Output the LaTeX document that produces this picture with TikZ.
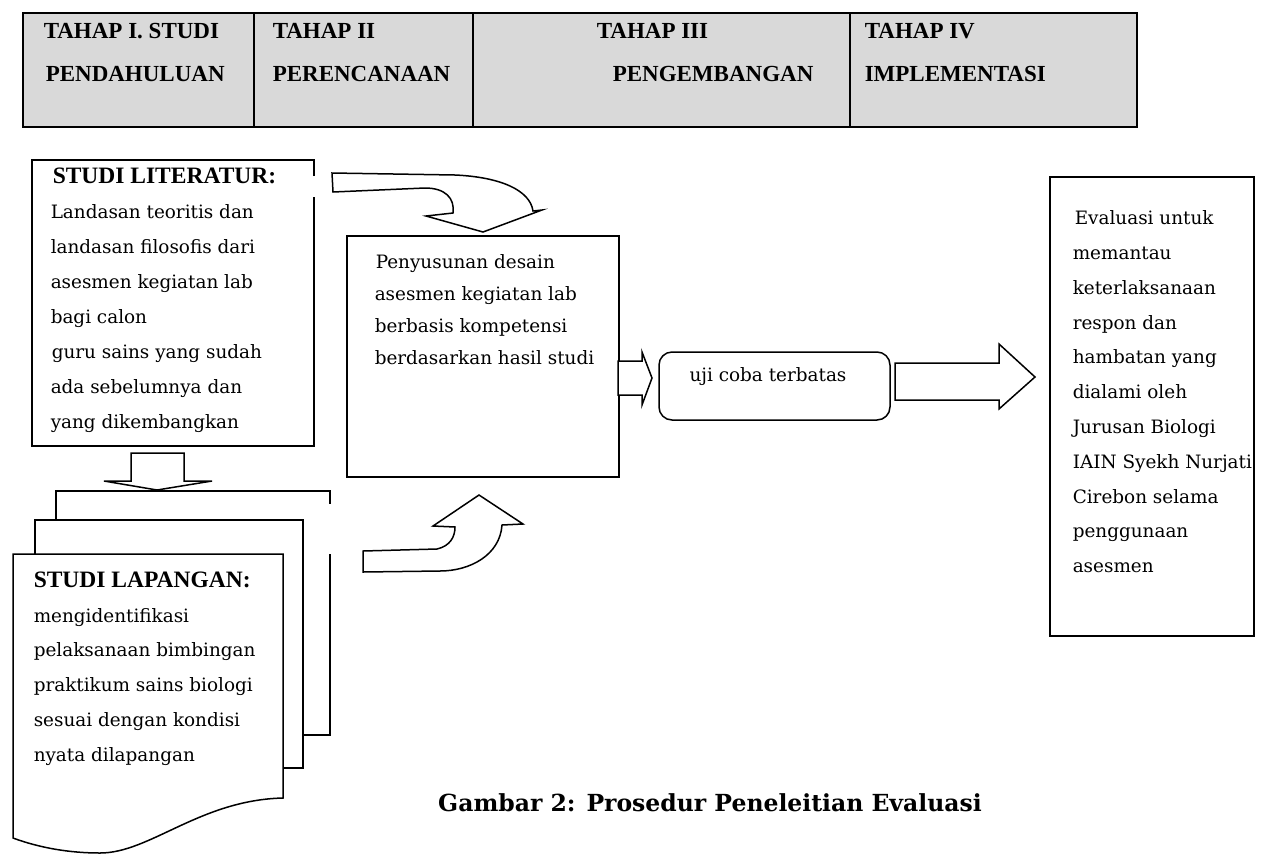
\documentclass[tikz,border=0pt]{standalone}
\usepackage{fontspec}
\setmainfont{DejaVu Serif}
\newfontfamily\stagefont{Liberation Serif}
\definecolor{hdrgray}{RGB}{217,217,217}
\begin{document}
\begin{tikzpicture}[x=1pt,y=-1pt,line width=1.5pt,
    boxtext/.style={anchor=north west,inner sep=0pt,align=left,font=\fontsize{18.4}{35}\selectfont},
    stagetext/.style={anchor=north west,inner sep=0pt,align=left,font=\stagefont\bfseries\fontsize{23}{43}\selectfont},
    blockarrow/.style={draw,fill=white,line join=miter}]
  \useasboundingbox (0,0) rectangle (1263,855);
  % tahap
  \draw[line width=2.2pt,fill=hdrgray] (23,13) rectangle (1137,127);
  \foreach \x in {254,473,850}
    \draw[line width=2.2pt] (\x,13) -- (\x,127);
  \node[stagetext] (tahap1) at (43,23) {TAHAP I. STUDI\\\hspace*{2pt}PENDAHULUAN};
  \node[stagetext] (tahap2) at (272,23) {TAHAP II\\PERENCANAAN};
  \node[stagetext] (tahap3) at (596,23) {TAHAP III\\\hspace*{16pt}PENGEMBANGAN};
  \node[stagetext] (tahap4) at (864,23) {TAHAP IV\\IMPLEMENTASI};
  % studi literatur
  \draw (314,176) -- (314,160) -- (32,160) -- (32,446) -- (314,446) -- (314,197);
  \node[boxtext] (literatur) at (50,167) {\hspace*{2pt}{\stagefont\bfseries\fontsize{23.5}{35}\selectfont STUDI LITERATUR:}\\
    Landasan teoritis dan\\landasan filosofis dari\\asesmen kegiatan lab\\bagi calon\\
    \hspace*{1pt}guru sains yang sudah\\ada sebelumnya dan\\yang dikembangkan};
  % studi lapangan
  \draw (56,520) -- (56,491) -- (330,491) -- (330,504);
  \draw (330,554) -- (330,735) -- (303,735);
  \draw (35,554) -- (35,520) -- (303,520) -- (303,768) -- (283,768);
  \draw (13,554) -- (283,554) -- (283,798)
    .. controls (200,800) and (150,853) .. (100,853)
    .. controls (70,853) and (40,848) .. (13,838) -- cycle;
  \node[boxtext,font=\fontsize{18.4}{34.75}\selectfont] (lapangan) at (33,571) {{\stagefont\bfseries\fontsize{23.5}{35}\selectfont STUDI LAPANGAN:}\\
    mengidentifikasi\\pelaksanaan bimbingan\\praktikum sains biologi\\sesuai dengan kondisi\\nyata dilapangan};
  \draw[blockarrow] (131,453) -- (184,453) -- (184,481) -- (212,481) -- (157,490) -- (104,481) -- (131,481) -- cycle;
  % perencanaan
  \draw (347,236) rectangle (619,477);
  \node[boxtext,font=\fontsize{18.4}{32}\selectfont] (desain) at (374,254) {\hspace*{1pt}Penyusunan desain\\asesmen kegiatan lab\\berbasis kompetensi\\berdasarkan hasil studi};
  \draw[blockarrow] (332,173) -- (455,175) .. controls (500,177) and (530,190) .. (533,211)
    -- (542,210) -- (483,232) -- (426,216) -- (453,213)
    .. controls (455,198) and (445,188) .. (425,188) -- (333,192) -- cycle;
  \draw[blockarrow] (363,551) -- (437,549) .. controls (450,546) and (455,537) .. (455,527)
    -- (433,526) -- (479,495) -- (523,524) -- (502,525)
    .. controls (500,555) and (470,571) .. (440,571) -- (363,572) -- cycle;
  % pengembangan
  \draw[blockarrow] (618,361) -- (642,361) -- (642,352) -- (652,378) -- (642,405) -- (642,395) -- (618,395) -- cycle;
  \draw[rounded corners=13pt] (659,352) rectangle (890,420);
  \node[font=\fontsize{18.4}{22}\selectfont] (ujicoba) at (768,377) {uji coba terbatas};
  \draw[blockarrow] (895,363) -- (999,363) -- (999,344) -- (1035,377) -- (999,409) -- (999,400) -- (895,400) -- cycle;
  % implementasi
  \draw[line width=2pt] (1050,177) rectangle (1254,636);
  \node[boxtext,font=\fontsize{18.4}{34.8}\selectfont] (evaluasi) at (1072,210) {\hspace*{2pt}Evaluasi untuk\\memantau\\keterlaksanaan\\respon dan\\hambatan yang\\dialami oleh\\Jurusan Biologi\\IAIN Syekh Nurjati\\Cirebon selama\\penggunaan\\asesmen};
  \node[font=\bfseries\fontsize{23.5}{28}\selectfont] (gambar) at (710,803) {Gambar 2: Prosedur Peneleitian Evaluasi};
\end{tikzpicture}
\end{document}
